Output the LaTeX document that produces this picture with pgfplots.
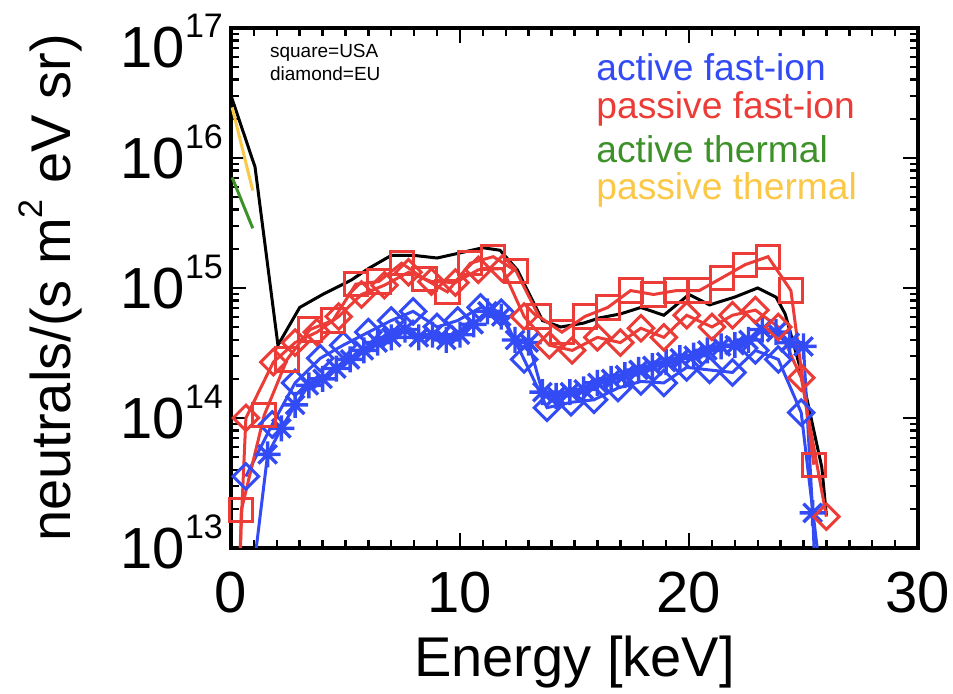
\documentclass[border=0pt]{standalone}
\usepackage{fontspec}
\setmainfont{Liberation Sans}
\usepackage{pgfplots}
\pgfplotsset{compat=1.18}
\definecolor{cblue}{RGB}{50,75,245}
\definecolor{cred}{RGB}{235,60,55}
\definecolor{cgreen}{RGB}{60,145,40}
\definecolor{corange}{RGB}{250,200,70}
\newcommand{\pw}[1]{10\raisebox{0.52em}{\fontsize{17}{17}\selectfont #1}}
\pgfdeclareplotmark{star8}{%
  \pgfpathmoveto{\pgfqpoint{-\pgfplotmarksize}{0pt}}\pgfpathlineto{\pgfqpoint{\pgfplotmarksize}{0pt}}%
  \pgfpathmoveto{\pgfqpoint{0pt}{-\pgfplotmarksize}}\pgfpathlineto{\pgfqpoint{0pt}{\pgfplotmarksize}}%
  \pgfpathmoveto{\pgfqpoint{-0.707\pgfplotmarksize}{-0.707\pgfplotmarksize}}\pgfpathlineto{\pgfqpoint{0.707\pgfplotmarksize}{0.707\pgfplotmarksize}}%
  \pgfpathmoveto{\pgfqpoint{-0.707\pgfplotmarksize}{0.707\pgfplotmarksize}}\pgfpathlineto{\pgfqpoint{0.707\pgfplotmarksize}{-0.707\pgfplotmarksize}}%
  \pgfusepathqstroke}
\begin{document}
\begin{tikzpicture}
\path[use as bounding box] (0,0) rectangle (476.5pt,347pt);
\begin{axis}[
  at={(115.5pt,73pt)}, anchor=south west,
  scale only axis, width=343.5pt, height=260pt,
  xmin=0, xmax=30, ymode=log, ymin=1e13, ymax=1e17,
  xtick={0,10,20,30}, minor x tick num=9,
  ytick={1e13,1e14,1e15,1e16,1e17},
  yticklabels={\pw{13},\pw{14},\pw{15},\pw{16},{\raisebox{-9.5pt}{\pw{17}}}},
  xticklabels={0,10,20,30},
  tick align=inside, tick pos=both,
  major tick length=7.5pt, minor tick length=4pt,
  every tick/.style={black, line width=1.2pt},
  axis line style={line width=1.6pt},
  tick label style={font=\fontsize{29}{30}\selectfont},
  xticklabel style={yshift=-8pt},
  yticklabel style={anchor=base east, yshift=-10.4pt},
  xlabel={Energy [keV]},
  ylabel={neutrals/(s m\raisebox{0.5em}{\fontsize{17}{17}\selectfont 2} eV sr)},
  label style={font=\fontsize{28}{30}\selectfont},
  xlabel style={at={(axis description cs:0.5,-0.219)}, anchor=center},
  ylabel style={at={(axis description cs:-0.2635,0.5)}, anchor=center},
  line width=1.5pt,
]
% total
\addplot[black, line width=1.5pt, mark=none] coordinates {
(0,3.02e16) (1.05,8.51e15) (2.05,3.63e14) (3.0,7.08e14) (4.0,8.91e14) (5.25,1.15e15)
(6.0,1.41e15) (7.0,1.78e15) (8.0,1.78e15) (9.0,1.70e15) (10.0,1.86e15) (11.0,2.04e15)
(11.75,1.95e15) (12.5,1.38e15) (13.6,5.62e14) (14.4,5.01e14) (15.4,5.37e14) (16.1,5.89e14)
(17.0,6.31e14) (17.9,7.08e14) (18.9,6.17e14) (20.0,8.91e14) (20.9,7.41e14) (22.0,8.51e14)
(23.0,1.0e15) (23.8,8.51e14) (24.2,6.31e14) (24.85,2.45e14) (25.8,4.17e13) (26.0,1.78e13)
};
% passive thermal
\addplot[corange, line width=1.5pt, mark=none] coordinates {(0.05,2.45e16) (0.95,5.62e15)};
% active thermal
\addplot[cgreen, line width=1.5pt, mark=none] coordinates {(0.05,7.08e15) (0.95,2.88e15)};
% active fast-ion EU (diamonds)
\addplot[cblue, line width=1.5pt, mark=square, mark size=4.5pt,
  mark options={rotate=45, line width=1.5pt, solid}] coordinates {
(0.65,3.55e13) (1.8,8.91e13) (2.8,1.86e14) (3.9,2.88e14) (4.9,3.63e14) (6.0,4.57e14)
(7.0,5.62e14) (7.95,6.61e14) (9.0,5.01e14) (9.9,5.62e14) (10.9,7.08e14) (11.8,6.46e14)
(12.8,2.82e14) (13.8,1.20e14) (14.85,1.32e14) (15.85,1.38e14) (16.9,1.70e14) (17.9,1.91e14)
(18.9,1.86e14) (19.9,2.45e14) (20.9,2.34e14) (21.9,2.24e14) (22.9,3.31e14) (23.9,2.82e14)
(24.9,1.10e14) (26.0,2.5e12)
};
% active fast-ion USA (asterisks)
\addplot[cblue, line width=1.5pt, mark=star8, mark size=6.5pt,
  mark options={line width=1.7pt}] coordinates {
(1.0,7.1e12) (1.6,5.25e13) (2.2,8.32e13) (2.8,1.26e14) (3.4,1.78e14) (4.0,2.0e14)
(4.6,2.40e14) (5.2,2.82e14) (5.8,3.31e14) (6.4,3.80e14) (7.0,4.17e14) (7.6,4.79e14)
(8.2,4.17e14) (8.8,4.37e14) (9.4,3.98e14) (10.0,4.37e14) (10.6,5.25e14) (11.2,6.61e14)
(11.8,6.03e14) (12.4,3.98e14) (13.0,3.80e14) (13.6,1.58e14) (14.2,1.48e14) (14.8,1.58e14)
(15.4,1.66e14) (16.0,1.86e14) (16.6,2.0e14) (17.2,2.14e14) (17.8,2.34e14) (18.4,2.51e14)
(19.0,2.69e14) (19.6,2.88e14) (20.2,3.02e14) (20.8,3.31e14) (21.4,3.55e14) (22.0,3.63e14)
(22.6,3.98e14) (23.2,4.79e14) (23.8,4.57e14) (24.4,3.80e14) (25.0,3.55e14) (25.4,1.86e13)
(25.8,3.0e11)
};
% passive fast-ion EU (diamonds)
\addplot[cred, line width=1.5pt, mark=square, mark size=4.5pt,
  mark options={rotate=45, line width=1.5pt, solid}] coordinates {
(0.15,1e12) (0.65,1.00e14) (1.85,2.69e14) (2.8,3.80e14) (3.75,4.57e14) (4.7,6.03e14)
(5.7,8.91e14) (6.7,1.05e15) (7.75,1.32e15) (8.75,1.12e15) (9.8,1.10e15) (10.8,1.38e15)
(11.85,1.41e15) (12.8,6.03e14) (13.9,3.63e14) (14.9,3.31e14) (16.0,4.17e14) (17.0,3.80e14)
(17.9,4.90e14) (18.9,4.17e14) (19.9,6.17e14) (21.0,5.01e14) (21.9,6.17e14) (22.9,6.76e14)
(23.9,5.01e14) (24.9,2.04e14) (26.0,1.74e13)
};
% passive fast-ion USA (squares)
\addplot[cred, line width=1.5pt, mark=square, mark size=5.8pt,
  mark options={line width=1.5pt, solid}] coordinates {
(0.2,1e11) (0.45,1.95e13) (1.45,1.05e14) (2.45,2.82e14) (3.45,4.79e14) (4.45,5.62e14)
(5.45,1.07e15) (6.45,1.12e15) (7.45,1.55e15) (8.45,1.17e15) (9.45,9.33e14) (10.45,1.55e15)
(11.45,1.74e15) (12.45,1.35e15) (13.45,6.03e14) (14.45,4.57e14) (15.45,6.03e14) (16.45,7.08e14)
(17.45,9.55e14) (18.45,8.91e14) (19.45,9.55e14) (20.45,9.55e14) (21.45,1.20e15) (22.45,1.51e15)
(23.45,1.74e15) (24.45,9.55e14) (25.45,4.37e13)
};
\node[anchor=west, font=\fontsize{9.5}{10}\selectfont] at (rel axis cs:0.045,0.952) {square=USA};
\node[anchor=west, font=\fontsize{9.5}{10}\selectfont] at (rel axis cs:0.045,0.913) {diamond=EU};
\node[anchor=west, text=cblue, font=\fontsize{18.6}{20}\selectfont] at (rel axis cs:0.52,0.925) {active fast-ion};
\node[anchor=west, text=cred, font=\fontsize{18.6}{20}\selectfont] at (rel axis cs:0.52,0.845) {passive fast-ion};
\node[anchor=west, text=cgreen, font=\fontsize{18.6}{20}\selectfont] at (rel axis cs:0.52,0.767) {active thermal};
\node[anchor=west, text=corange, font=\fontsize{18.6}{20}\selectfont] at (rel axis cs:0.52,0.688) {passive thermal};
\end{axis}
\end{tikzpicture}
\end{document}
